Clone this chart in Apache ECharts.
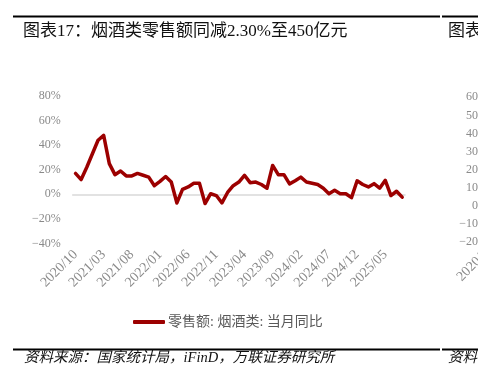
<!DOCTYPE html>
<html>
<head>
<meta charset="utf-8">
<script src="https://cdn.jsdelivr.net/npm/echarts@6/dist/echarts.min.js"></script>
<style>html,body{margin:0;padding:0;background:#fff;}#c{width:478px;height:383px;}</style>
</head>
<body>
<div id="c"></div>
<script>
const titleText = '图表17：烟酒类零售额同减2.30%至450亿元';
const sourceText = '资料来源：国家统计局，iFinD，万联证券研究所';
const seriesName = '零售额: 烟酒类: 当月同比';
const categories = [
  '2020/10','2020/11','2020/12',
  '2021/01','2021/02','2021/03','2021/04','2021/05','2021/06','2021/07','2021/08','2021/09','2021/10','2021/11','2021/12',
  '2022/01','2022/02','2022/03','2022/04','2022/05','2022/06','2022/07','2022/08','2022/09','2022/10','2022/11','2022/12',
  '2023/01','2023/02','2023/03','2023/04','2023/05','2023/06','2023/07','2023/08','2023/09','2023/10','2023/11','2023/12',
  '2024/01','2024/02','2024/03','2024/04','2024/05','2024/06','2024/07','2024/08','2024/09','2024/10','2024/11','2024/12',
  '2025/01','2025/02','2025/03','2025/04','2025/05','2025/06','2025/07','2025/08'
];
const yoyValues = [
  17, 12, 22,
  33, 44, 48, 25, 16, 19, 15, 15, 17, 15.5, 14, 7,
  10.5, 14.5, 10, -7, 4, 6, 9, 9, -7.5, 0.5, -1, -7,
  1.5, 7, 10, 15.5, 9.5, 10, 8, 5, 23.5, 16, 16, 8.5,
  11, 14, 10, 9, 8, 5, 0.5, 3.3, 0.5, 0.5, -2.7, 11,
  8, 6, 8.7, 5, 11.4, -1, 2.5, -2.3
];
const yMin = -40, yMax = 80, yStep = 20;
// partially visible neighbouring chart on the right edge
const rightTitle = '图表';
const rightSource = '资料';
const rightYMin = -20, rightYMax = 60, rightYStep = 10;
const rightFirstLabel = '2020/10';

const serif = '"Liberation Serif", "Times New Roman", "Noto Sans CJK SC", serif';
const fmt = v => (v < 0 ? '\u2212' + Math.abs(v) : '' + v) + '%';
const fmtR = v => (v < 0 ? '\u2212' + Math.abs(v) : '' + v);
const red = '#9C0000';
const gray = '#8a8a8a';

const chart = echarts.init(document.getElementById('c'), null, {renderer: 'canvas'});
chart.setOption({
  animation: false,
  backgroundColor: '#fff',
  grid: [
    {left: 72.7, right: 73, top: 96, bottom: 139.5},
    {left: 482, width: 40, top: 97.3, height: 145}
  ],
  legend: {
    left: 128, top: 310,
    icon: 'roundRect', itemWidth: 32, itemHeight: 4, itemGap: 10,
    textStyle: {fontSize: 14, color: '#595959', fontFamily: serif, padding: [0, 0, 0, -2]},
    data: [{name: seriesName, itemStyle: {color: red}}]
  },
  xAxis: [
    {
      type: 'category', data: categories, gridIndex: 0, boundaryGap: true,
      axisLine: {onZero: true, lineStyle: {color: '#d9d9d9', width: 1.5}},
      axisTick: {interval: 4, length: 4, lineStyle: {color: '#d9d9d9'}},
      axisLabel: {show: false}, splitLine: {show: false}
    },
    {
      type: 'category', data: categories, gridIndex: 0, boundaryGap: true, position: 'bottom',
      axisLine: {show: false, onZero: false}, axisTick: {show: false},
      axisLabel: {interval: 4, rotate: 45, margin: 9, color: gray, fontSize: 14, fontFamily: serif},
      splitLine: {show: false}
    },
    {type: 'value', gridIndex: 1, show: false}
  ],
  yAxis: [
    {
      type: 'value', gridIndex: 0, min: yMin, max: yMax, interval: yStep,
      axisLine: {show: false}, axisTick: {show: false}, splitLine: {show: false},
      axisLabel: {formatter: fmt, color: gray, fontSize: 12, fontFamily: serif, margin: 12}
    },
    {
      type: 'value', gridIndex: 1, min: rightYMin, max: rightYMax, interval: rightYStep,
      axisLine: {show: false}, axisTick: {show: false}, splitLine: {show: false},
      axisLabel: {formatter: fmtR, color: gray, fontSize: 12, fontFamily: serif, margin: 4}
    }
  ],
  series: [{
    name: seriesName, type: 'line', xAxisIndex: 0, yAxisIndex: 0,
    data: yoyValues, symbol: 'none', smooth: false,
    lineStyle: {color: red, width: 3.5, cap: 'round', join: 'round'},
    itemStyle: {color: red}
  }],
  graphic: [
    {type: 'rect', shape: {x: 13, y: 15.5, width: 427, height: 2}, style: {fill: '#000'}},
    {type: 'rect', shape: {x: 442, y: 15.5, width: 40, height: 2}, style: {fill: '#000'}},
    {type: 'text', x: 23, y: 31.7, style: {text: titleText, font: '17px ' + serif, fill: '#111', textVerticalAlign: 'middle'}},
    {type: 'text', x: 448, y: 31.7, style: {text: rightTitle, font: '17px ' + serif, fill: '#111', textVerticalAlign: 'middle'}},
    {type: 'rect', shape: {x: 13, y: 348.5, width: 427, height: 2}, style: {fill: '#000'}},
    {type: 'rect', shape: {x: 442, y: 348.5, width: 40, height: 2}, style: {fill: '#000'}},
    {type: 'text', x: 24, y: 358, style: {text: sourceText, font: 'italic 14.5px ' + serif, fill: '#111', textVerticalAlign: 'middle'}},
    {type: 'text', x: 448, y: 358, style: {text: rightSource, font: 'italic 14.5px ' + serif, fill: '#111', textVerticalAlign: 'middle'}},
    {type: 'text', x: 464, y: 284, rotation: Math.PI / 4, style: {text: rightFirstLabel, font: '14px ' + serif, fill: gray, textAlign: 'left', textVerticalAlign: 'bottom'}}
  ]
});
</script>
</body>
</html>
